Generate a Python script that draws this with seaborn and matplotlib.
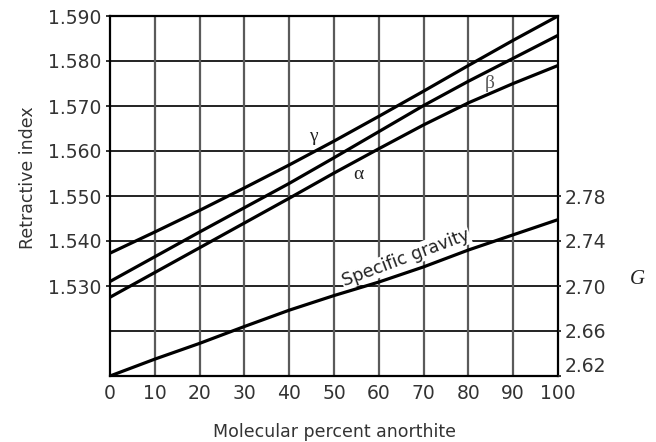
import matplotlib
matplotlib.use("Agg")
import matplotlib.pyplot as plt
import seaborn as sns
import pandas as pd

# ---- data ----
pct = [0, 10, 20, 30, 40, 50, 60, 70, 80, 90, 100]
gamma = [1.5373, 1.5420, 1.5468, 1.5518, 1.5569, 1.5622, 1.5677, 1.5733, 1.5790, 1.5846, 1.5900]
beta = [1.5310, 1.5365, 1.5420, 1.5474, 1.5528, 1.5585, 1.5643, 1.5701, 1.5755, 1.5806, 1.5857]
alpha = [1.5275, 1.5330, 1.5385, 1.5440, 1.5495, 1.5551, 1.5605, 1.5658, 1.5707, 1.5750, 1.5790]
sg = [2.620, 2.635, 2.649, 2.664, 2.6785, 2.6915, 2.7035, 2.717, 2.732, 2.7455, 2.759]

left_ticks = [1.530, 1.540, 1.550, 1.560, 1.570, 1.580, 1.590]
left_grid = [1.520, 1.530, 1.540, 1.550, 1.560, 1.570, 1.580]
right_ticks = [2.62, 2.66, 2.70, 2.74, 2.78]
x_ticks = [0, 10, 20, 30, 40, 50, 60, 70, 80, 90, 100]

sns.set_style("white")
plt.rcParams["font.family"] = ["DejaVu Sans"]

df = pd.DataFrame({
    "pct": pct * 3,
    "ri": gamma + beta + alpha,
    "ray": ["gamma"] * len(pct) + ["beta"] * len(pct) + ["alpha"] * len(pct),
})

fig = plt.figure(figsize=(6.56, 4.42), dpi=100)
ax = fig.add_axes([110 / 656, 66 / 442, 448 / 656, 360 / 442])

sns.lineplot(data=df, x="pct", y="ri", units="ray", estimator=None,
             color="black", lw=2.3, ax=ax, zorder=3)

ax.set_xlim(0, 100)
ax.set_ylim(1.510, 1.590)

# grid
for g in left_grid:
    ax.axhline(g, color="#222222", lw=1.4, zorder=1)
for xv in x_ticks[1:-1]:
    ax.axvline(xv, color="#5a5a5a", lw=1.6, zorder=1)

ax.set_xticks(x_ticks)
ax.set_xticklabels([str(v) for v in x_ticks])
ax.set_yticks(left_ticks)
ax.set_yticklabels([f"{v:.3f}" for v in left_ticks])
ax.tick_params(axis="x", length=0, pad=6, labelsize=13.5, labelcolor="#333333")
ax.tick_params(axis="y", length=3, width=1.3, pad=3, labelsize=13.5,
               labelcolor="#333333", direction="out", color="#222222")

for s in ax.spines.values():
    s.set_color("black")
    s.set_linewidth(1.6)

ax.set_xlabel("Molecular percent anorthite", fontsize=12.5, color="#333333", labelpad=14)
ax.set_ylabel("Retractive index", fontsize=12.5, color="#333333")
ax.yaxis.set_label_coords(-0.162, 0.55)

# right axis: specific gravity
ax2 = ax.twinx()
sns.lineplot(x=pct, y=sg, color="black", lw=2.3, ax=ax2, zorder=4)
ax2.set_ylim(2.62, 2.94)
ax2.set_yticks(right_ticks)
ax2.set_yticklabels([f"{v:.2f}" for v in right_ticks])
ax2.tick_params(axis="y", length=2, width=1.3, pad=3, labelsize=13.5,
                labelcolor="#333333", color="#222222")
ax2.get_yticklabels()[0].set_va("bottom")
for s in ax2.spines.values():
    s.set_visible(False)
ax2.set_ylabel("")

ax2.text(66.0, 2.7252, "Specific gravity", rotation=20.5, ha="center", va="center",
         fontsize=12.5, color="#222222", zorder=3,
         bbox=dict(boxstyle="square,pad=0.05", fc="white", ec="none"))

# Greek labels
serif = ["Liberation Serif", "DejaVu Serif"]
ax.text(45.4, 1.5633, "γ", fontsize=14, family=serif, ha="center", va="center", color="#222222")
ax.text(55.4, 1.5547, "α", fontsize=14, family=serif, ha="center", va="center", color="#222222")
ax.text(84.8, 1.5750, "β", fontsize=14, family=serif, ha="center", va="center", color="#555555")

fig.text(637 / 656, 1 - 279 / 442, "G", fontsize=15, family=serif, style="italic",
         ha="center", va="center", color="#222222")

fig.savefig("out.png", dpi=100, facecolor="white")
